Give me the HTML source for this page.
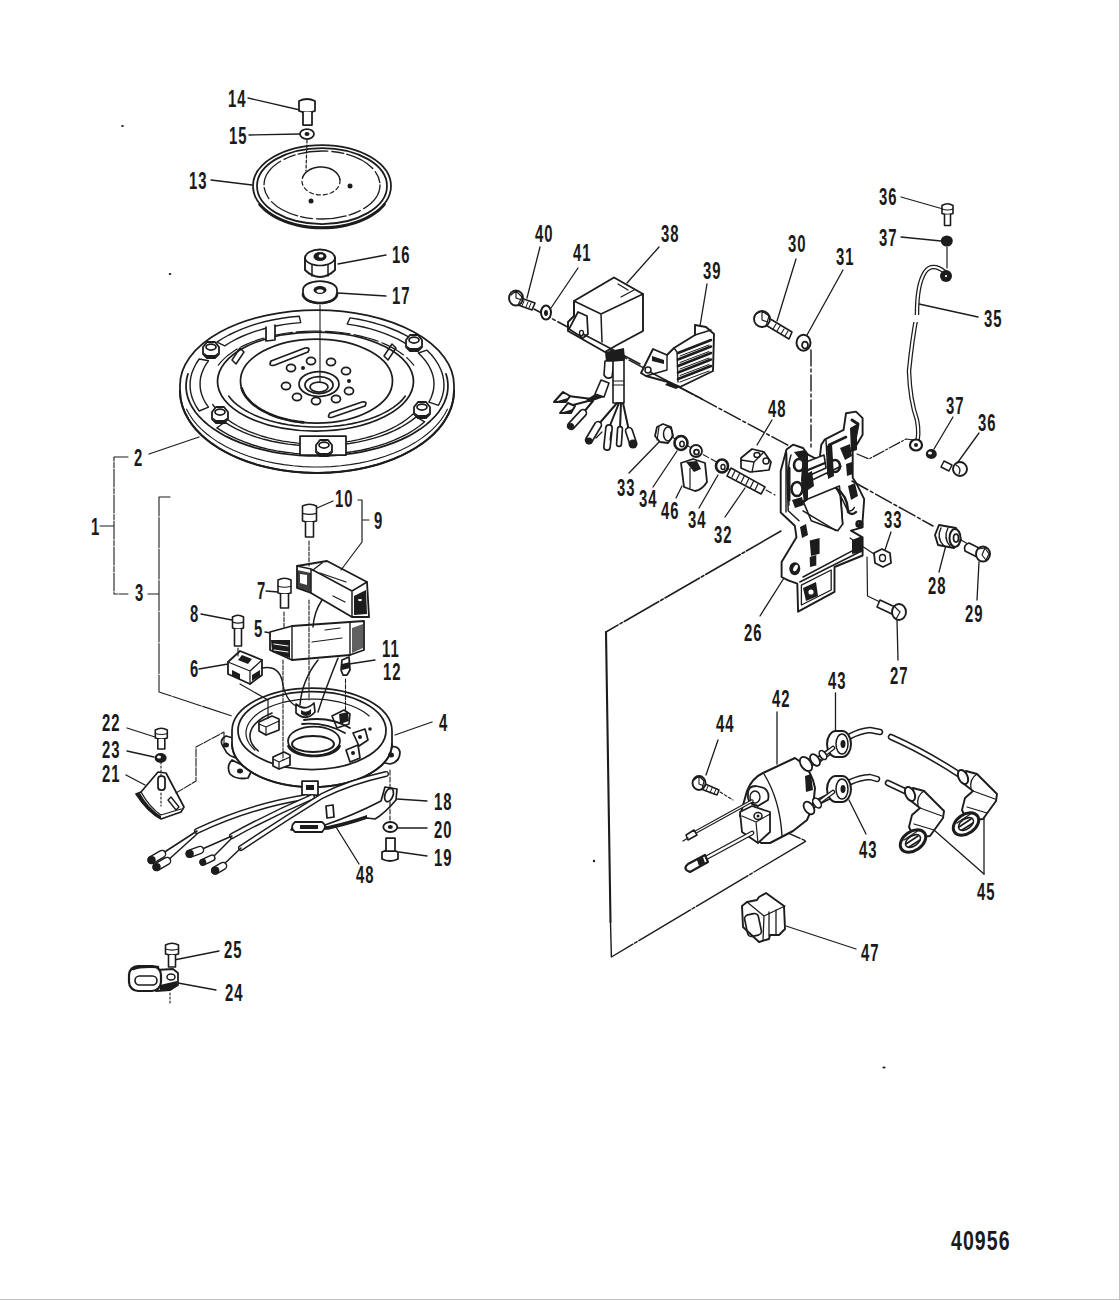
<!DOCTYPE html>
<html><head><meta charset="utf-8"><style>
html,body{margin:0;padding:0;background:#fff;width:1120px;height:1300px;overflow:hidden}
svg{display:block;position:absolute;left:0;top:0}
.t text{font-family:"Liberation Sans",sans-serif;font-weight:bold;fill:#1a1a1a;stroke:none;letter-spacing:1.5px}
.s{fill:none;stroke:#1c1c1c;stroke-width:1.75;stroke-linecap:round;stroke-linejoin:round}
.w{fill:#fff}
.k{fill:#1c1c1c;stroke:none}
</style></head><body>
<svg width="1120" height="1300" viewBox="0 0 1120 1300">
<rect x="1119" y="0" width="1" height="1300" fill="#c2c2c2"/>
<rect x="0" y="1299" width="1120" height="1" fill="#c2c2c2"/>
<g class="s">
<line x1="248" y1="98" x2="300" y2="110" stroke-width="1.3"/>
<line x1="249" y1="135" x2="300" y2="134" stroke-width="1.3"/>
<line x1="211" y1="180" x2="252" y2="185" stroke-width="1.3"/>
<line x1="338" y1="264" x2="386" y2="255" stroke-width="1.3"/>
<line x1="338" y1="293" x2="386" y2="296" stroke-width="1.3"/>
<line x1="149" y1="454" x2="199" y2="437" stroke-width="1.3"/>
<line x1="317" y1="508" x2="333" y2="501" stroke-width="1.3"/>
<line x1="266" y1="591" x2="278" y2="592" stroke-width="1.3"/>
<line x1="201" y1="614" x2="232" y2="620" stroke-width="1.3"/>
<line x1="265" y1="632" x2="282" y2="635" stroke-width="1.3"/>
<line x1="199" y1="669" x2="228" y2="664" stroke-width="1.3"/>
<line x1="349" y1="664" x2="375" y2="660" stroke-width="1.3"/>
<line x1="395" y1="735" x2="432" y2="722" stroke-width="1.3"/>
<line x1="127" y1="728" x2="155" y2="737" stroke-width="1.3"/>
<line x1="127" y1="751" x2="154" y2="757" stroke-width="1.3"/>
<line x1="126" y1="775" x2="145" y2="785" stroke-width="1.3"/>
<line x1="397" y1="799" x2="427" y2="801" stroke-width="1.3"/>
<line x1="397" y1="828" x2="427" y2="828" stroke-width="1.3"/>
<line x1="399" y1="852" x2="427" y2="856" stroke-width="1.3"/>
<line x1="336" y1="827" x2="359" y2="864" stroke-width="1.3"/>
<line x1="174" y1="960" x2="219" y2="951" stroke-width="1.3"/>
<line x1="178" y1="983" x2="216" y2="990" stroke-width="1.3"/>
<line x1="527" y1="298" x2="540" y2="247" stroke-width="1.3"/>
<line x1="551" y1="308" x2="578" y2="268" stroke-width="1.3"/>
<line x1="627" y1="283" x2="659" y2="247" stroke-width="1.3"/>
<line x1="700" y1="326" x2="707" y2="284" stroke-width="1.3"/>
<line x1="777" y1="321" x2="796" y2="259" stroke-width="1.3"/>
<line x1="807" y1="335" x2="843" y2="270" stroke-width="1.3"/>
<line x1="901" y1="197" x2="943" y2="209" stroke-width="1.3"/>
<line x1="901" y1="237" x2="941" y2="241" stroke-width="1.3"/>
<line x1="919" y1="304" x2="978" y2="317" stroke-width="1.3"/>
<line x1="660" y1="441" x2="629" y2="473" stroke-width="1.3"/>
<line x1="677" y1="451" x2="653" y2="487" stroke-width="1.3"/>
<line x1="682" y1="486" x2="676" y2="498" stroke-width="1.3"/>
<line x1="718" y1="475" x2="699" y2="508" stroke-width="1.3"/>
<line x1="745" y1="488" x2="725" y2="517" stroke-width="1.3"/>
<line x1="757" y1="445" x2="772" y2="420" stroke-width="1.3"/>
<line x1="934" y1="449" x2="953" y2="417" stroke-width="1.3"/>
<line x1="958" y1="462" x2="979" y2="433" stroke-width="1.3"/>
<line x1="946" y1="545" x2="939" y2="572" stroke-width="1.3"/>
<line x1="979" y1="562" x2="977" y2="600" stroke-width="1.3"/>
<line x1="885" y1="550" x2="891" y2="532" stroke-width="1.3"/>
<line x1="897" y1="620" x2="898" y2="660" stroke-width="1.3"/>
<line x1="760" y1="616" x2="784" y2="578" stroke-width="1.3"/>
<line x1="706" y1="775" x2="718" y2="740" stroke-width="1.3"/>
<line x1="777" y1="712" x2="777" y2="764" stroke-width="1.3"/>
<line x1="835.5" y1="693" x2="835.5" y2="731" stroke-width="1.3"/>
<line x1="849" y1="800" x2="866" y2="834" stroke-width="1.3"/>
<line x1="934" y1="830" x2="984" y2="874" stroke-width="1.3"/>
<line x1="984" y1="814" x2="984" y2="874" stroke-width="1.3"/>
<line x1="786" y1="926" x2="856" y2="949" stroke-width="1.3"/>
<ellipse cx="322" cy="186" rx="69" ry="41" class="w"/><ellipse cx="322" cy="186" rx="65" ry="38" /><ellipse cx="322" cy="185" rx="58" ry="34" stroke-width="1.3" stroke-dasharray="30,4,12,3"/><path d="M384.5,204.3 L382.3,206.9 L379.8,209.4 L377.0,211.8 L373.9,214.0 L370.5,216.1 L366.9,218.1 L363.1,219.9 L359.1,221.6 L354.9,223.1 L350.5,224.3 L346.0,225.5 L341.3,226.4 L336.6,227.1 L331.8,227.6 L326.9,227.9 L322.0,228.0 L317.1,227.9 L312.2,227.6 L307.4,227.1 L302.7,226.4 L298.0,225.5 L293.5,224.3 L289.1,223.1 L284.9,221.6 L280.9,219.9 L277.1,218.1 L273.5,216.1 L270.1,214.0 L267.0,211.8 L264.2,209.4 L261.7,206.9 L259.5,204.3" stroke-width="2.6"/><path d="M302.6,177.4 L303.0,176.4 L303.5,175.5 L304.1,174.6 L304.7,173.8 L305.4,173.0 L306.2,172.2 L307.1,171.5 L308.0,170.8 L309.0,170.1 L310.1,169.5 L311.2,169.0 L312.4,168.5 L313.6,168.1 L314.8,167.8 L316.1,167.5 L317.4,167.3 L318.7,167.1 L320.0,167.0 L321.3,167.0 L322.7,167.1 L324.0,167.2 L325.3,167.4 L326.6,167.6 L327.8,167.9 L329.0,168.3 L330.2,168.8 L331.3,169.3 L332.4,169.8 L333.5,170.4 L334.4,171.1 L335.3,171.8 L336.2,172.6 L336.9,173.4 L337.6,174.2 L338.2,175.1 L338.7,176.0 L339.2,176.9 L339.5,177.9 L339.8,178.8 L339.9,179.8" stroke-width="1.5"/><path d="M339.9,179.8 L340.0,180.8 L340.0,181.7 L339.9,182.7 L339.7,183.7 L339.4,184.6 L339.0,185.6 L338.5,186.5 L337.9,187.4 L337.3,188.2 L336.6,189.0 L335.8,189.8 L334.9,190.5 L334.0,191.2 L333.0,191.9 L331.9,192.5 L330.8,193.0 L329.6,193.5 L328.4,193.9 L327.2,194.2 L325.9,194.5 L324.6,194.7 L323.3,194.9 L322.0,195.0 L320.7,195.0 L319.3,194.9 L318.0,194.8 L316.7,194.6 L315.4,194.4 L314.2,194.1 L313.0,193.7 L311.8,193.2 L310.7,192.7 L309.6,192.2 L308.5,191.6 L307.6,190.9 L306.7,190.2 L305.8,189.4 L305.1,188.6 L304.4,187.8 L303.8,186.9 L303.3,186.0 L302.8,185.1 L302.5,184.1 L302.2,183.2 L302.1,182.2 L302.0,181.2 L302.0,180.3 L302.1,179.3 L302.3,178.3 L302.6,177.4" stroke-width="1.2" stroke-dasharray="4,3"/><circle cx="350" cy="186" r="2.5" class="k"/><circle cx="311" cy="201" r="2.5" class="k"/><line x1="307" y1="140" x2="306" y2="171" stroke-width="1.2" stroke-dasharray="3,2"/><path class="w" d="M299,101 Q307,97 315,101 L315,111 Q307,114 299,111 Z"/><path class="w" d="M303,112 L303,125 L312,125 L312,112"/><ellipse cx="307" cy="134" rx="7" ry="5" class="w"/><ellipse cx="307" cy="134" rx="2.5" ry="2" class="k"/><path class="w" d="M305,258 A15,8.5 0 0,1 335,258 L335,270 Q328,277 320,277 Q312,277 305,270 Z" stroke-width="1.9"/><path d="M335.0,257.5 L335.0,258.1 L334.9,258.6 L334.7,259.2 L334.4,259.7 L334.1,260.2 L333.7,260.8 L333.2,261.3 L332.7,261.7 L332.1,262.2 L331.5,262.6 L330.8,263.1 L330.0,263.4 L329.2,263.8 L328.4,264.1 L327.5,264.4 L326.6,264.7 L325.6,264.9 L324.6,265.1 L323.6,265.3 L322.6,265.4 L321.6,265.5 L320.5,265.5 L319.5,265.5 L318.4,265.5 L317.4,265.4 L316.4,265.3 L315.4,265.1 L314.4,264.9 L313.4,264.7 L312.5,264.4 L311.6,264.1 L310.8,263.8 L310.0,263.4 L309.2,263.1 L308.5,262.6 L307.9,262.2 L307.3,261.7 L306.8,261.3 L306.3,260.8 L305.9,260.2 L305.6,259.7 L305.3,259.2 L305.1,258.6 L305.0,258.1 L305.0,257.5" stroke-width="1.7"/><path d="M312,265 L312,276 M328,265 L328,276" stroke-width="1.5"/><ellipse cx="320" cy="256.5" rx="6.5" ry="4.5" class="k"/><ellipse cx="321" cy="256" rx="2.5" ry="1.8" fill="#fff" stroke="none"/><path class="w" d="M303,290 A17,9 0 0,1 337,290 L337,294 A17,9 0 0,1 303,294 Z"/><path d="M337.0,294.0 L337.0,294.6 L336.8,295.3 L336.6,295.9 L336.3,296.5 L336.0,297.1 L335.5,297.7 L335.0,298.2 L334.4,298.8 L333.8,299.3 L333.0,299.8 L332.2,300.3 L331.4,300.7 L330.5,301.1 L329.5,301.5 L328.5,301.8 L327.5,302.1 L326.4,302.3 L325.3,302.6 L324.1,302.7 L323.0,302.9 L321.8,303.0 L320.6,303.0 L319.4,303.0 L318.2,303.0 L317.0,302.9 L315.9,302.7 L314.7,302.6 L313.6,302.3 L312.5,302.1 L311.5,301.8 L310.5,301.5 L309.5,301.1 L308.6,300.7 L307.8,300.3 L307.0,299.8 L306.2,299.3 L305.6,298.8 L305.0,298.2 L304.5,297.7 L304.0,297.1 L303.7,296.5 L303.4,295.9 L303.2,295.3 L303.0,294.6 L303.0,294.0" stroke-width="2.6"/><ellipse cx="320" cy="290" rx="6.5" ry="4" class="k"/><ellipse cx="320" cy="291" rx="3.5" ry="1.8" fill="#fff" stroke="none"/><path class="w" d="M180,385 A137,75 0 0,1 454,385 L454,391 A137,82 0 0,1 180,391 Z"/><path d="M454.0,391.0 L453.7,396.7 L452.7,402.4 L451.0,408.0 L448.7,413.6 L445.7,419.0 L442.2,424.4 L438.0,429.5 L433.2,434.5 L427.8,439.2 L421.9,443.7 L415.5,448.0 L408.7,451.9 L401.3,455.6 L393.6,459.0 L385.5,462.0 L377.1,464.7 L368.3,467.0 L359.3,469.0 L350.1,470.6 L340.8,471.8 L331.3,472.6 L321.8,473.0 L312.2,473.0 L302.7,472.6 L293.2,471.8 L283.9,470.6 L274.7,469.0 L265.7,467.0 L256.9,464.7 L248.5,462.0 L240.4,459.0 L232.7,455.6 L225.3,451.9 L218.5,448.0 L212.1,443.7 L206.2,439.2 L200.8,434.5 L196.0,429.5 L191.8,424.4 L188.3,419.0 L185.3,413.6 L183.0,408.0 L181.3,402.4 L180.3,396.7 L180.0,391.0" stroke-width="2"/><path d="M446.0,373.8 L447.3,378.7 L447.9,383.6 L447.9,388.4 L447.3,393.3 L446.0,398.2 L444.1,402.9 L441.6,407.6 L438.5,412.2 L434.7,416.7 L430.4,421.0 L425.6,425.1 L420.2,429.1 L414.4,432.8 L408.0,436.4 L401.2,439.6 L394.0,442.6 L386.4,445.4 L378.5,447.8 L370.3,449.9 L361.8,451.8 L353.1,453.3 L344.2,454.5 L335.2,455.3 L326.1,455.8 L317.0,456.0 L307.9,455.8 L298.8,455.3 L289.8,454.5 L280.9,453.3 L272.2,451.8 L263.7,449.9 L255.5,447.8 L247.6,445.4 L240.0,442.6 L232.8,439.6 L226.0,436.4 L219.6,432.8 L213.8,429.1 L208.4,425.1 L203.6,421.0 L199.3,416.7 L195.5,412.2 L192.4,407.6 L189.9,402.9 L188.0,398.2 L186.7,393.3 L186.1,388.4 L186.1,383.6 L186.7,378.7 L188.0,373.8" /><path d="M447.4,409.2 L444.6,414.5 L441.2,419.6 L437.1,424.6 L432.5,429.4 L427.2,434.0 L421.4,438.4 L415.1,442.6 L408.3,446.4 L401.1,450.0 L393.4,453.3 L385.3,456.3 L376.9,458.9 L368.2,461.2 L359.3,463.1 L350.1,464.6 L340.8,465.8 L331.3,466.6 L321.8,467.0 L312.2,467.0 L302.7,466.6 L293.2,465.8 L283.9,464.6 L274.7,463.1 L265.8,461.2 L257.1,458.9 L248.7,456.3 L240.6,453.3 L232.9,450.0 L225.7,446.4 L218.9,442.6 L212.6,438.4 L206.8,434.0 L201.5,429.4 L196.9,424.6 L192.8,419.6 L189.4,414.5 L186.6,409.2" stroke-width="1.1"/><path d="M421.3,404.5 L418.4,408.4 L415.0,412.2 L411.1,415.8 L406.8,419.3 L402.0,422.6 L396.8,425.7 L391.3,428.6 L385.3,431.3 L379.1,433.7 L372.5,436.0 L365.7,437.9 L358.6,439.6 L351.3,441.1 L343.9,442.2 L336.3,443.1 L328.6,443.7 L320.9,444.0 L313.1,444.0 L305.4,443.7 L297.7,443.1 L290.1,442.2 L282.7,441.1 L275.4,439.6 L268.3,437.9 L261.5,436.0 L254.9,433.7 L248.7,431.3 L242.7,428.6 L237.2,425.7 L232.0,422.6 L227.2,419.3 L222.9,415.8 L219.0,412.2 L215.6,408.4 L212.7,404.5" stroke-width="1.3"/><ellipse cx="315.5" cy="381.5" rx="98" ry="49.5" /><path d="M218.3,365.2 L221.0,361.8 L224.2,358.6 L227.8,355.4 L231.9,352.4 L236.3,349.6 L241.2,346.9 L246.4,344.4 L252.0,342.0 L257.8,339.9 L264.0,338.0 L270.4,336.3 L277.0,334.8 L283.9,333.5 L290.8,332.5 L297.9,331.8 L305.1,331.3 L312.4,331.0 L319.6,331.0 L326.9,331.3 L334.1,331.8 L341.2,332.5 L348.1,333.5 L355.0,334.8 L361.6,336.3 L368.0,338.0 L374.2,339.9 L380.0,342.0 L385.6,344.4 L390.8,346.9 L395.7,349.6 L400.1,352.4 L404.2,355.4 L407.8,358.6 L411.0,361.8 L413.7,365.2" stroke-width="1.2" stroke-dasharray="25,4"/><path d="M405.3,396.1 L402.9,399.1 L400.0,402.1 L396.7,404.9 L393.0,407.6 L389.0,410.2 L384.6,412.6 L379.9,414.9 L374.9,417.0 L369.6,419.0 L364.0,420.7 L358.2,422.2 L352.2,423.6 L346.0,424.7 L339.7,425.6 L333.3,426.3 L326.8,426.7 L320.3,427.0 L313.7,427.0 L307.2,426.7 L300.7,426.3 L294.3,425.6 L288.0,424.7 L281.8,423.6 L275.8,422.2 L270.0,420.7 L264.4,419.0 L259.1,417.0 L254.1,414.9 L249.4,412.6 L245.0,410.2 L241.0,407.6 L237.3,404.9 L234.0,402.1 L231.1,399.1 L228.7,396.1" stroke-width="1.6"/><ellipse cx="316.5" cy="381" rx="76" ry="42" /><ellipse cx="319" cy="384" rx="20" ry="12.5" /><ellipse cx="319" cy="385" rx="14" ry="8.5" /><ellipse cx="319" cy="387" rx="9" ry="5" /><ellipse cx="291" cy="368" rx="4.5" ry="3.6" /><ellipse cx="286" cy="386" rx="4.5" ry="3.6" /><ellipse cx="297" cy="397" rx="4.5" ry="3.6" /><ellipse cx="316" cy="401" rx="4.5" ry="3.6" /><ellipse cx="336" cy="399" rx="4.5" ry="3.6" /><ellipse cx="349" cy="391" rx="4.5" ry="3.6" /><ellipse cx="346" cy="371" rx="4.5" ry="3.6" /><ellipse cx="331" cy="362" rx="4.5" ry="3.6" /><ellipse cx="311" cy="361" rx="4.5" ry="3.6" /><circle cx="303" cy="368" r="2" class="k"/><circle cx="349" cy="381" r="2" class="k"/><path d="M271,361 L305,348 Q311,347 308,352 L275,365 Q268,367 271,361 Z"/><path d="M330,413 L362,402 Q368,401 365,406 L333,417 Q326,419 330,413 Z"/><path d="M199.2,411.0 L196.2,406.5 L193.8,401.8 L191.9,397.1 L190.7,392.3 L190.1,387.4 L190.1,382.6 L190.7,377.7 L191.9,372.9 L193.8,368.2 L196.2,363.5 L199.2,359.0 L208.5,360.8 L205.7,364.8 L203.5,369.0 L201.8,373.2 L200.6,377.5 L200.1,381.8 L200.1,386.2 L200.6,390.5 L201.8,394.8 L203.5,399.0 L205.7,403.2 L208.5,407.2 Z" stroke-width="1.4"/><path d="M303.7,454.1 L294.5,453.4 L285.5,452.3 L276.6,450.9 L267.9,449.1 L259.5,447.0 L251.4,444.5 L243.7,441.7 L236.3,438.7 L229.4,435.3 L222.9,431.7 L216.9,427.8 L224.8,422.2 L230.3,425.6 L236.3,428.9 L242.7,431.9 L249.4,434.6 L256.6,437.1 L264.0,439.3 L271.8,441.2 L279.8,442.8 L288.0,444.1 L296.3,445.0 L304.8,445.7 Z" stroke-width="1.4"/><path d="M424.7,421.8 L419.5,426.0 L413.8,430.0 L407.5,433.8 L400.8,437.2 L393.6,440.4 L386.0,443.3 L378.0,445.9 L369.8,448.2 L361.2,450.2 L352.4,451.7 L343.4,453.0 L341.3,444.6 L349.6,443.5 L357.7,442.1 L365.6,440.4 L373.2,438.4 L380.6,436.1 L387.6,433.5 L394.2,430.6 L400.4,427.5 L406.1,424.2 L411.4,420.6 L416.2,416.9 Z" stroke-width="1.4"/><path d="M427.0,350.2 L431.4,354.8 L435.2,359.6 L438.3,364.5 L440.8,369.5 L442.6,374.6 L443.6,379.7 L444.0,384.9 L443.7,390.1 L442.6,395.2 L440.9,400.3 L438.5,405.3 L428.9,402.1 L431.1,397.7 L432.7,393.1 L433.7,388.5 L434.0,383.9 L433.7,379.3 L432.7,374.7 L431.0,370.1 L428.8,365.7 L425.9,361.3 L422.4,357.1 L418.3,353.0 Z" stroke-width="1.4"/><path d="M216.9,342.2 L222.6,338.5 L228.8,335.0 L235.4,331.8 L242.4,328.8 L249.7,326.1 L257.4,323.6 L265.3,321.5 L273.6,319.7 L282.0,318.2 L290.6,317.0 L299.3,316.2 L300.7,322.6 L292.7,323.4 L284.8,324.4 L277.0,325.7 L269.4,327.4 L262.1,329.3 L255.0,331.4 L248.2,333.8 L241.8,336.5 L235.7,339.4 L230.1,342.5 L224.8,345.8 Z" stroke-width="1.4"/><path d="M349.9,317.9 L358.6,319.3 L367.1,321.1 L375.3,323.3 L383.3,325.7 L390.8,328.5 L398.1,331.5 L404.9,334.8 L411.2,338.4 L417.1,342.2 L409.2,345.8 L403.8,342.4 L397.9,339.2 L391.7,336.3 L385.0,333.6 L378.0,331.1 L370.7,328.9 L363.1,327.0 L355.3,325.4 L347.3,324.1 Z" stroke-width="1.4"/><rect x="300" y="436" width="46" height="19" class="w"/><path class="w" d="M203,347 L207,342 L215,342 L219,347 L219,354 L215,358 L207,358 L203,354 Z" stroke-width="1.8"/><ellipse cx="211" cy="347" rx="5" ry="3" /><path class="k" d="M203,352 L207,358 L215,358 L219,352 L215,355 L207,355 Z"/><path class="w" d="M406,340 L410,335 L418,335 L422,340 L422,347 L418,351 L410,351 L406,347 Z" stroke-width="1.8"/><ellipse cx="414" cy="340" rx="5" ry="3" /><path class="k" d="M406,345 L410,351 L418,351 L422,345 L418,348 L410,348 Z"/><path class="w" d="M212,412 L216,407 L224,407 L228,412 L228,419 L224,423 L216,423 L212,419 Z" stroke-width="1.8"/><ellipse cx="220" cy="412" rx="5" ry="3" /><path class="k" d="M212,417 L216,423 L224,423 L228,417 L224,420 L216,420 Z"/><path class="w" d="M414,407 L418,402 L426,402 L430,407 L430,414 L426,418 L418,418 L414,414 Z" stroke-width="1.8"/><ellipse cx="422" cy="407" rx="5" ry="3" /><path class="k" d="M414,412 L418,418 L426,418 L430,412 L426,415 L418,415 Z"/><path class="w" d="M316,445 L320,440 L328,440 L332,445 L332,452 L328,456 L320,456 L316,452 Z" stroke-width="1.8"/><ellipse cx="324" cy="445" rx="5" ry="3" /><path class="k" d="M316,450 L320,456 L328,456 L332,450 L328,453 L320,453 Z"/><path d="M266,327 L266,341 L275,340 L275,325" class="w"/><path d="M232,360 L240,348 L244,352 L236,364 Z" stroke-width="1.5"/><path d="M384,356 L392,344 L396,348 L388,360 Z" stroke-width="1.5"/><path d="M303.3,422.4 L298.0,421.7 L292.7,420.9 L287.6,419.8 L282.6,418.6 L277.8,417.2 L273.2,415.5 L268.9,413.7 L264.7,411.7 L260.9,409.6 L257.3,407.3 L254.0,404.9 L251.1,402.4 L248.5,399.7 L246.2,397.0 L244.3,394.1 L242.8,391.2 L241.7,388.3" stroke-width="2.6"/><line x1="320" y1="305" x2="320" y2="382" stroke-width="1.1"/><path d="M128,457 L114,457 L114,594 L128,594 M100,526 L114,526" stroke-width="1.1" stroke-dasharray="18,1.5,5,1.5"/><path d="M170,497 L159,497 L159,692 L232,716 M148,594 L159,594" stroke-width="1.1" stroke-dasharray="30,1.5"/><path class="w" d="M224,748 Q218,740 226,736 L240,740 L240,758 Q228,758 224,748 Z"/><path class="w" d="M388,748 Q398,744 400,752 Q400,762 390,764 L380,762 Z"/><path class="w" d="M232,760 Q226,766 230,774 Q236,780 248,778 L252,770 Z"/><path class="w" d="M232,731 A80,43 0 0,1 392,731 L392,744 A80,43 0 0,1 232,744 Z"/><path d="M392.0,744.0 L391.8,747.0 L391.2,750.0 L390.3,752.9 L388.9,755.9 L387.2,758.7 L385.1,761.5 L382.6,764.2 L379.8,766.8 L376.7,769.3 L373.3,771.6 L369.5,773.9 L365.5,776.0 L361.3,777.9 L356.7,779.6 L352.0,781.2 L347.1,782.6 L342.0,783.9 L336.7,784.9 L331.4,785.7 L325.9,786.3 L320.4,786.8 L314.8,787.0 L309.2,787.0 L303.6,786.8 L298.1,786.3 L292.6,785.7 L287.3,784.9 L282.0,783.9 L276.9,782.6 L272.0,781.2 L267.3,779.6 L262.7,777.9 L258.5,776.0 L254.5,773.9 L250.7,771.6 L247.3,769.3 L244.2,766.8 L241.4,764.2 L238.9,761.5 L236.8,758.7 L235.1,755.9 L233.7,752.9 L232.8,750.0 L232.2,747.0 L232.0,744.0" stroke-width="1.8"/><ellipse cx="312" cy="730.5" rx="74" ry="39" /><path d="M254.8,750.0 L252.7,747.9 L250.8,745.7 L249.2,743.5 L248.0,741.2 L247.0,738.9 L246.4,736.6 L246.0,734.2 L246.0,731.8 L246.4,729.4 L247.0,727.1 L248.0,724.8 L249.2,722.5 L250.8,720.3 L252.7,718.1 L254.8,716.0 L257.3,714.0 L260.0,712.1 L263.0,710.2 L266.2,708.5 L269.6,707.0 L273.2,705.5 L277.0,704.2 L281.0,703.0 L285.2,701.9 L289.4,701.1 L293.8,700.3 L298.3,699.7 L302.8,699.3 L307.4,699.1 L312.0,699.0 L316.6,699.1 L321.2,699.3 L325.7,699.7 L330.2,700.3 L334.6,701.1 L338.8,701.9 L343.0,703.0 L347.0,704.2 L350.8,705.5 L354.4,707.0 L357.8,708.5 L361.0,710.2 L364.0,712.1 L366.7,714.0 L369.2,716.0" stroke-width="1.2"/><ellipse cx="314" cy="741" rx="26" ry="14.5" /><ellipse cx="313" cy="744" rx="21" ry="8" stroke-width="2"/><ellipse cx="226" cy="745" rx="3" ry="2.5" class="k"/><ellipse cx="391" cy="755" rx="3" ry="2.5" class="k"/><ellipse cx="240" cy="771" rx="3" ry="2.5" class="k"/><path class="w" d="M259,722 L272,716 L279,719 L279,730 L266,735 L259,731 Z" stroke-width="1.7"/><path d="M259,724 L266,727 L279,721 M266,727 L266,735" stroke-width="1.2"/><path class="w" d="M273,757 L284,752 L290,755 L290,765 L279,769 L273,766 Z" stroke-width="1.7"/><path d="M273,759 L279,762 L290,757 M279,762 L279,769" stroke-width="1.2"/><path class="w" d="M296,704 Q305,712 314,703 L315,712 Q306,722 296,713 Z" stroke-width="1.7"/><path class="k" d="M301,710 Q306,714 311,709 L311,714 Q306,718 301,714 Z"/><path class="w" d="M332,716 L344,710 L350,714 L349,724 L337,728 Z" stroke-width="1.6"/><path class="k" d="M339,714 L348,712 L349,721 L340,724 Z"/><path class="w" d="M353,733 L365,729 L368,740 L359,746 Z" stroke-width="1.7"/><circle cx="360" cy="737" r="2" class="k"/><path class="w" d="M346,750 L358,745 L360,758 L350,762 Z" stroke-width="1.7"/><circle cx="353" cy="753" r="2" class="k"/><circle cx="370" cy="729" r="1.8" class="k"/><path d="M302,724 Q325,722 345,733 M304,720 Q330,716 350,728" stroke-width="1.8"/><path d="M258.3,751.0 L256.3,749.2 L254.5,747.2 L253.0,745.3 L251.8,743.3 L250.9,741.2 L250.3,739.1 L250.0,737.0 L250.0,735.0 L250.3,732.9 L250.9,730.8 L251.8,728.7 L253.0,726.7 L254.5,724.8 L256.3,722.8 L258.3,721.0 L260.6,719.2 L263.1,717.5 L265.9,715.9 L268.9,714.4 L272.1,713.0" stroke-width="1.6"/><path d="M339.6,746.1 L339.2,746.9 L338.7,747.7 L338.1,748.5 L337.4,749.3 L336.5,750.0 L335.6,750.7 L334.5,751.4 L333.3,752.0 L332.1,752.6 L330.7,753.2 L329.3,753.7 L327.8,754.2 L326.2,754.6 L324.6,755.0 L322.9,755.3 L321.2,755.5 L319.4,755.7 L317.6,755.9 L315.8,756.0 L314.0,756.0 L312.2,756.0 L310.4,755.9 L308.6,755.7 L306.8,755.5 L305.1,755.3 L303.4,755.0 L301.8,754.6 L300.2,754.2 L298.7,753.7 L297.3,753.2 L295.9,752.6 L294.7,752.0 L293.5,751.4 L292.4,750.7 L291.5,750.0 L290.6,749.3 L289.9,748.5 L289.3,747.7 L288.8,746.9 L288.4,746.1" stroke-width="2.6"/><path class="w" d="M302,781 L318,781 L318,795 L302,795 Z"/><rect x="306" y="785" width="8" height="5" class="k"/><path d="M306,797 Q250,806 197,831" stroke-width="6.0" stroke-linecap="round" /><path d="M306,797 Q250,806 197,831" stroke="#fff" stroke-width="3.2" stroke-linecap="round" /><path d="M312,797 Q270,815 232,836" stroke-width="6.0" stroke-linecap="round" /><path d="M312,797 Q270,815 232,836" stroke="#fff" stroke-width="3.2" stroke-linecap="round" /><path d="M386,774 Q350,782 322,796 Q280,822 241,848" stroke-width="6.0" stroke-linecap="round" /><path d="M386,774 Q350,782 322,796 Q280,822 241,848" stroke="#fff" stroke-width="3.2" stroke-linecap="round" /><path d="M197,831 L160,855 M197,834 L166,862 M232,836 L200,850 M232,838 L212,858 M241,848 L222,866" stroke-width="1.5"/><path d="M162,854 L151.6,860.0" stroke-width="8.6" stroke-linecap="round"/><path d="M162,854 L151.6,860.0" stroke="#fff" stroke-width="5.8" stroke-linecap="round"/><circle cx="151.6" cy="860.0" r="4.1" class="k"/><path d="M167,861 L156.6,867.0" stroke-width="8.6" stroke-linecap="round"/><path d="M167,861 L156.6,867.0" stroke="#fff" stroke-width="5.8" stroke-linecap="round"/><circle cx="156.6" cy="867.0" r="4.1" class="k"/><path d="M200,850 L189.7,853.8" stroke-width="8.6" stroke-linecap="round"/><path d="M200,850 L189.7,853.8" stroke="#fff" stroke-width="5.8" stroke-linecap="round"/><circle cx="189.7" cy="853.8" r="4.1" class="k"/><path d="M212,858 L202.9,862.2" stroke-width="7.199999999999999" stroke-linecap="round"/><path d="M212,858 L202.9,862.2" stroke="#fff" stroke-width="4.3999999999999995" stroke-linecap="round"/><circle cx="202.9" cy="862.2" r="3.4" class="k"/><path d="M223,866 L215.2,870.5" stroke-width="8.6" stroke-linecap="round"/><path d="M223,866 L215.2,870.5" stroke="#fff" stroke-width="5.8" stroke-linecap="round"/><circle cx="215.2" cy="870.5" r="4.1" class="k"/><path class="w" d="M297,566 L327,561 L367,582 L369,617 L352,617 L311,593 L297,588 Z" stroke-width="1.8"/><path d="M311,569 L311,593 M311,569 L352,591 L352,617 M352,591 L367,582 M297,566 L311,569" stroke-width="1.5"/><path class="k" d="M297,570 L311,573 L311,593 L297,588 Z" opacity="0.85"/><path class="w" d="M300,574 L307,575 L307,585 L300,583 Z" stroke="none"/><path class="k" d="M354,596 L366,590 L367,614 L354,615 Z"/><ellipse cx="360" cy="600" rx="3" ry="2" fill="#fff"/><path d="M320,573 L346,582 M333,596 L345,602 M313,570 L322,563" stroke-width="1.3"/><path class="w" d="M270,632 L292,626 L364,621 L364,650 L350,655 L292,660 L270,650 Z" stroke-width="1.8"/><path d="M292,626 L292,660 M350,623 L350,655" stroke-width="1.4"/><path class="k" d="M271,640 L290,640 L290,658 L272,652 Z"/><path d="M274,644 L288,646 M274,650 L288,652" stroke="#fff" stroke-width="1"/><path class="k" d="M352,628 L363,624 L363,648 L352,653 Z" opacity="0.7"/><path d="M312,642 L342,638 M325,630 L340,628" stroke-width="1.2"/><path d="M322,600 Q314,612 313,627 M318,660 Q302,680 300,705 M338,658 Q325,690 318,712" stroke-width="1.5"/><path class="w" d="M228,662 L240,651 L262,660 L262,675 L250,684 L228,674 Z" stroke-width="1.8"/><path d="M228,662 L250,671 L262,660 M250,671 L250,684" stroke-width="1.3"/><path class="k" d="M242,655 L252,659 L248,664 L238,660 Z M232,670 L240,674 L240,680 L232,676 Z M252,675 L260,670 L260,676 L252,681 Z"/><path d="M262,668 Q278,665 282,680 Q285,700 296,706" stroke-width="1.4"/><path d="M240,684 L268,700 L268,718" stroke-width="1.2"/><path class="w" d="M302.5,506 Q309.5,502.5 316.5,506 L316.5,521 Q309.5,523 302.5,521 Z" stroke-width="1.6"/><path d="M302.5,513.35 Q309.5,515.35 316.5,513.35" stroke-width="1.2"/><path class="w" d="M305.5,522 L305.5,537 L313.5,537 L313.5,522" stroke-width="1.6"/><path class="w" d="M278.0,580 Q284.5,576.5 291.0,580 L291.0,593 Q284.5,595 278.0,593 Z" stroke-width="1.6"/><path d="M278.0,586.25 Q284.5,588.25 291.0,586.25" stroke-width="1.2"/><path class="w" d="M280.5,594 L280.5,608 L288.5,608 L288.5,594" stroke-width="1.6"/><path class="w" d="M232.5,617 Q238,613.5 243.5,617 L243.5,628 Q238,630 232.5,628 Z" stroke-width="1.6"/><path d="M232.5,622.15 Q238,624.15 243.5,622.15" stroke-width="1.2"/><path class="w" d="M234.5,629 L234.5,646 L241.5,646 L241.5,629" stroke-width="1.6"/><path d="M309,541 L309,566 M284,612 L284,628 M238,648 L238,656 M309,600 L309,700 M283,660 L283,760" stroke-width="1.1" stroke-dasharray="4,1.5"/><path class="w" d="M342,660 L349,657 L350,670 L347,675 L343,675 L341,670 Z"/><path class="k" d="M342,664 L350,662 L350,668 L342,670 Z"/><path d="M345.5,679 L345.5,712" stroke-width="1.1" stroke-dasharray="4,1.5"/><path d="M358,500 L362,500 L362,542 L341,570 M362,520 L369,520" stroke-width="1.2"/><path class="w" d="M155.3,730 Q161.3,726.5 167.3,730 L167.3,738 Q161.3,740 155.3,738 Z" stroke-width="1.6"/><path d="M155.3,733.5 Q161.3,735.5 167.3,733.5" stroke-width="1.2"/><path class="w" d="M157.8,739 L157.8,749 L164.8,749 L164.8,739" stroke-width="1.6"/><ellipse cx="160.6" cy="758" rx="6" ry="5" class="k"/><ellipse cx="159" cy="757" rx="2" ry="1.5" fill="#fff" stroke="none"/><path class="w" d="M158,772 L166,773 L184,807 L181,812 L161,819 Q148,812 136,794 L141,792 Z" stroke-width="1.7"/><path d="M141,792 Q150,808 161,815 L181,809" stroke-width="1.3"/><path class="k" d="M136,794 Q146,812 161,819 L161,816 Q148,808 140,793 Z"/><rect x="158" y="776" width="7" height="14" rx="3" class="w"/><path d="M168,800 L176,810 L179,807 L171,797 Z" stroke-width="1.4"/><path d="M161,762 L161,776 M161,793 L161,806" stroke-width="1.1" stroke-dasharray="2,2"/><path d="M176,793 L196,781 L196,747 L224,732 L224,745" stroke-width="1.1" stroke-dasharray="8,1.5"/><path class="w" d="M385,787 L397,789 L396,800 Q384,814 375,819 L367,818 Q350,824 328,829 L291,830 L295,824 L325,825 Q354,815 381,801 Z" stroke-width="1.7"/><path class="k" d="M367,818 Q350,824 328,829 L291,830 L292,828 L328,826 Q350,821 367,815 Z"/><ellipse cx="389" cy="795" rx="4" ry="7" transform="rotate(20 389 795)"/><path class="w" d="M295,822 L322,822 Q328,826 322,832 L295,832 Q289,827 295,822 Z" stroke-width="1.8"/><path class="k" d="M300,825 L318,825 L318,829 L300,829 Z"/><path class="w" d="M326,806 L333,805 L334,817 L327,818 Z"/><path d="M390,770 L390,790 M390,802 L390,820" stroke-width="1.1" stroke-dasharray="5,2"/><ellipse cx="390.3" cy="827" rx="7" ry="5" class="w" stroke-width="1.8"/><ellipse cx="390.3" cy="827" rx="2.5" ry="2" class="k"/><path class="w" d="M382,852 Q390,848 398,852 L398,859 Q390,863 382,859 Z"/><path class="w" d="M386,838 L386,851 L395,851 L395,838 Z"/><path class="w" d="M165.5,945 Q172,941.5 178.5,945 L178.5,954 Q172,956 165.5,954 Z" stroke-width="1.6"/><path d="M165.5,949.05 Q172,951.05 178.5,949.05" stroke-width="1.2"/><path class="w" d="M168.5,955 L168.5,967 L175.5,967 L175.5,955" stroke-width="1.6"/><path class="w" d="M156,970 L173,969 L178,973 L178,985 L170,990 L156,991 Z" stroke-width="1.8"/><path class="k" d="M160,985 L177,981 L177,986 L170,991 L160,991 Z"/><ellipse cx="171" cy="977" rx="4" ry="3" stroke-width="1.5"/><rect x="129" y="966" width="32" height="25" rx="9" class="w" stroke-width="2.2"/><path d="M133,969 Q140,966 158,967" stroke-width="2.6"/><rect x="135" y="976" width="22" height="9" rx="4.5" stroke-width="1.6"/><path d="M170,993 L170,1004" stroke-width="1.1" stroke-dasharray="2,2"/><ellipse cx="122.5" cy="126" rx="1.3" ry="1" class="k"/><ellipse cx="170" cy="274" rx="1.3" ry="1.1" class="k"/><ellipse cx="594" cy="861" rx="1.2" ry="1.2" class="k"/><ellipse cx="884" cy="1067.5" rx="1.6" ry="0.9" class="k"/><path d="M534,309 L793,448" stroke-width="1.5" stroke-dasharray="18,3,3,3"/><path class="w" d="M521,298 L535,303 L532,310 L518,305 Z" stroke-width="1.6"/><path d="M524,301 L522,306 M528,302 L526,307 M531,303 L529,308" stroke-width="1"/><ellipse cx="516" cy="298" rx="7" ry="7.5" class="w" stroke-width="1.9"/><path d="M511,295 L516,291 L522,297 L518,305 M516,291 L516,298 L522,300" stroke-width="1.2"/><ellipse cx="546" cy="312.6" rx="5" ry="7" class="w" stroke-width="2"/><ellipse cx="546" cy="313" rx="2" ry="3" class="k"/><path class="w" d="M574,301 L614,277.5 L643,294 L643,331 L617,345 L605,352 L568,331 L568,322 L574,316 Z" stroke-width="1.9"/><path d="M574,301 L601,314 L643,294 M601,314 L602,342 M574,301 L574,316" stroke-width="1.5"/><path class="w" d="M569,329 L578,312 L587,316 L588,334 L583,338 Z" stroke-width="1.7"/><ellipse cx="581.5" cy="333" rx="2" ry="2.6" stroke-width="1.3"/><path d="M583,334 L640,364" stroke-width="1.5"/><path d="M618,284 L628,290 M621,297 L634,290" stroke-width="1.3"/><path class="k" d="M605,352 L624,348 L625,360 L606,362 Z"/><path class="w" d="M605,361 L604,375 Q607,380 612,377 L614,361 Z" stroke-width="1.6"/><path class="w" d="M613,361 L613,403 L624,403 L624,360 Z" stroke-width="1.6"/><path d="M613,381 L624,381 M613,385 L624,385" stroke-width="1.2"/><path class="w" d="M601,380 L609,383 L604,397 L595,394 Z" stroke-width="1.6"/><path class="k" d="M595,394 L604,397 L590,402 L586,400 Z"/><path d="M592,399 L568,396 M592,400 L573,405 M593,401 L583,413" stroke-width="2"/><path class="w" d="M554,402 L563,392 L570,396 L566,402 Z" stroke-width="2"/><path class="k" d="M554,402 L566,402 L568,398 Z"/><path class="w" d="M560,413 L568,403 L575,406 L571,413 Z" stroke-width="2"/><path class="k" d="M560,413 L571,413 L573,409 Z"/><path d="M617,403 L598,425 M619,403 L609,428 M621,403 L620,429 M623,403 L629,431" stroke-width="2"/><path d="M583,413 L571,426" stroke-width="8.5" stroke-linecap="round"/><path d="M583,413 L571,426" stroke="#fff" stroke-width="5.2" stroke-linecap="round"/><path d="M598,425 L589,440" stroke-width="8.5" stroke-linecap="round"/><path d="M598,425 L589,440" stroke="#fff" stroke-width="5.2" stroke-linecap="round"/><path d="M609,428 L607,447" stroke-width="8.0" stroke-linecap="round"/><path d="M609,428 L607,447" stroke="#fff" stroke-width="4.7" stroke-linecap="round"/><path d="M620,429 L619,444" stroke-width="6.5" stroke-linecap="round"/><path d="M620,429 L619,444" stroke="#fff" stroke-width="3.2" stroke-linecap="round"/><path d="M629,431 L633,443" stroke-width="8.5" stroke-linecap="round"/><path d="M629,431 L633,443" stroke="#fff" stroke-width="5.2" stroke-linecap="round"/><circle cx="633" cy="444" r="4.5" class="k"/><circle cx="589" cy="441" r="3.5" class="k"/><circle cx="571" cy="426" r="3" class="k"/><path d="M611,432 L610,440 M602,432 L596,438" stroke-width="1.2"/><path class="w" d="M653,349 L667,355 L674,348 L695,335 L695,325 L706,327 L714,334 L713,371 L680,387 L668,382 L646,376 L641,373 Z" stroke-width="1.9"/><path d="M667,355 L667,370 L646,376 M674,348 L677,352 L678,382 M695,335 L711,330" stroke-width="1.4"/><path d="M678,353.0 L711,340.0" stroke-width="2.6"/><path d="M680,356.0 L709,345.0" stroke-width="1" /><path d="M678,359.5 L711,346.5" stroke-width="2.6"/><path d="M680,362.5 L709,351.5" stroke-width="1" /><path d="M678,366.0 L711,353.0" stroke-width="2.6"/><path d="M680,369.0 L709,358.0" stroke-width="1" /><path d="M678,372.5 L711,359.5" stroke-width="2.6"/><path d="M680,375.5 L709,364.5" stroke-width="1" /><path d="M678,379.0 L711,366.0" stroke-width="2.6"/><path d="M680,382.0 L709,371.0" stroke-width="1" /><path class="k" d="M652,356 L664,360 L664,364 L652,361 Z"/><circle cx="648" cy="370" r="3" stroke-width="1.5"/><path d="M650,372 L702,399" stroke-width="1.5"/><path class="k" d="M668,382 L680,387 L676,389 L665,385 Z"/><path class="w" d="M767,317 L792,332 L789,339 L764,324 Z" stroke-width="1.6"/><path d="M776,324 L773,329 M780,326 L777,331 M784,329 L781,334 M788,331 L785,336" stroke-width="1.1"/><ellipse cx="762" cy="319" rx="8" ry="8" class="w" stroke-width="1.9"/><path d="M756,314 L762,311 L769,316 L766,326 M762,311 L762,320 L768,322" stroke-width="1.2"/><ellipse cx="803.5" cy="342.8" rx="7" ry="8" class="w" stroke-width="2"/><ellipse cx="805" cy="345" rx="3" ry="3.5" /><path d="M811,350 L811,450" stroke-width="1.4" stroke-dasharray="16,3,3,3"/><path class="w" d="M942.0,205.5 Q947.5,202.0 953.0,205.5 L953.0,213.5 Q947.5,215.5 942.0,213.5 Z" stroke-width="1.6"/><path d="M942.0,209.0 Q947.5,211.0 953.0,209.0" stroke-width="1.2"/><path class="w" d="M944.5,214.5 L944.5,225.5 L950.5,225.5 L950.5,214.5" stroke-width="1.6"/><ellipse cx="946.8" cy="241" rx="6" ry="5.5" class="k"/><path d="M947,247 L947,268" stroke-width="1.2"/><path d="M945,272 Q932,262 925,272 Q917,284 917,314 Q912,340 909,371 Q910,400 917,420 Q920,435 916,447" stroke-width="4.5"/><path d="M945,272 Q932,262 925,272 Q917,284 917,314 Q912,340 909,371 Q910,400 917,420 Q920,435 916,447" stroke="#fff" stroke-width="2"/><circle cx="946" cy="276" r="6" class="k"/><circle cx="946" cy="276" r="2" fill="#fff"/><rect x="910" y="315" width="14" height="7" fill="#fff" stroke="none"/><path d="M781,531 L606,632" stroke-width="1.5" stroke-dasharray="40,2,3,2"/><path d="M606,632 L610.5,922" stroke-width="2.1"/><path d="M610.5,922 L611.4,957 L806,841 L770,825" stroke-width="1.4" stroke-dasharray="60,2,3,2"/><path d="M672,437 L775,495" stroke-width="1.1" stroke-dasharray="6,3"/><path class="w" d="M657,427 L663,424 L671,427 L673,436 L668,443 L660,442 L655,436 Z" stroke-width="1.8"/><ellipse cx="668" cy="434" rx="4.5" ry="7" stroke-width="1.5"/><path d="M659,427 L657,440" stroke-width="1.2"/><ellipse cx="681" cy="443" rx="6.5" ry="7" class="w" stroke-width="2.6"/><ellipse cx="682" cy="444" rx="2.2" ry="2.8" stroke-width="1.5"/><ellipse cx="696" cy="451" rx="6" ry="6" class="w" stroke-width="1.8"/><ellipse cx="696.5" cy="452" rx="2.5" ry="2.5" /><path class="w" d="M681,463 L693,459 L705,463 L707,482 Q702,490 695,491 L684,487 Z" stroke-width="1.8"/><path d="M690,468 L690,488" stroke-width="1.2"/><path class="k" d="M686,462 L697,461 L701,469 L694,472 Z"/><ellipse cx="722" cy="466" rx="6" ry="6.5" class="w" stroke-width="2.6"/><ellipse cx="723" cy="467" rx="2" ry="2.5" stroke-width="1.4"/><path class="w" d="M731,468 L765,487 L761,494 L727,476 Z" stroke-width="1.6"/><path d="M735.0,471.0 L732.0,477.0" stroke-width="1.2"/><path d="M739.6,473.6 L736.6,479.6" stroke-width="1.2"/><path d="M744.2,476.2 L741.2,482.2" stroke-width="1.2"/><path d="M748.8,478.8 L745.8,484.8" stroke-width="1.2"/><path d="M753.4,481.4 L750.4,487.4" stroke-width="1.2"/><path d="M758.0,484.0 L755.0,490.0" stroke-width="1.2"/><path class="w" d="M741,458 L752,449 L764,452 L771,462 L769,470 L750,472 L741,468 Z" stroke-width="1.7"/><path d="M741,460 L754,462 L764,452 M754,462 L752,472" stroke-width="1.3"/><ellipse cx="757" cy="455" rx="3" ry="2.5" stroke-width="1.5"/><ellipse cx="766" cy="461" rx="3" ry="3" stroke-width="1.5"/><path class="w" d="M780.7,471 L786.5,449.6 L793,444.7 L803,448 L808,454.6 L814.6,458 L819.6,459.6 L821.3,444.7 L824.6,439.7 L843.6,429.8 L846,413.3 L856,411.6 L862.6,418.2 L862.6,434.8 L852.7,451.3 L852.7,477.8 L856,482.7 L864.2,499.2 L862.6,520.7 L862.6,527.4 L851,530.7 L862.6,537.3 L862.6,555.5 L834.5,567 L834.5,591.8 L798.1,611.7 L797.3,583.6 L788.2,580.3 L781.6,577 L781.6,562 L796.5,537.3 L794.8,525.7 L780.7,512.5 Z" stroke-width="1.9"/><path d="M803,501 L839.4,486 L842.7,524 L837.8,530.7 L811.3,520.7 Z" stroke-width="1.6"/><path d="M786.5,453 L788.2,510.8 L799,520.7 M803,471 L824.6,459.6 M806.4,482.7 L841,466.2 M803,510.8 L836,530.7 M841,497.6 L842.7,524 M836,487.7 Q843,500 847.7,510.8 Q852,512 854.3,507.5 M799.8,582 L862.6,550.5 M803,577 L859.3,547.2 M826,440 L828,475" stroke-width="1.5"/><path d="M801.4,585.2 L831.2,570 L831.2,590 L801.4,605 Z" stroke-width="1.3"/><path d="M789,468 L789,500" stroke-width="3"/><ellipse cx="799" cy="465" rx="5" ry="6" stroke-width="2.6"/><ellipse cx="797" cy="489" rx="5.5" ry="7" stroke-width="2.6"/><path class="k" d="M794,452 L805,450 L808,456 L800,460 Z M803,474 L809,471 L810,482 L805,485 Z M792,500 L802,497 L804,505 L795,508 Z"/><path class="w" d="M806,462 L824,455 L826,468 L808,476 Z" stroke-width="1.6"/><path d="M808,470 L825,463" stroke-width="2.4"/><path d="M829,445 L846,437 M829,445 L829,473" stroke-width="2.6"/><ellipse cx="835" cy="466" rx="5" ry="6" stroke-width="2.6"/><path class="k" d="M840,448 L850,444 L852,456 L845,460 Z M846,464 L852,462 L853,474 L847,476 Z"/><path d="M852,420 L858,424 L855,440" stroke-width="3"/><path class="k" d="M803,452 L808,455 L808,500 L804,503 L801,480 Z"/><path class="k" d="M827,446 L832,444 L834,476 L828,479 Z"/><path class="k" d="M850,428 L857,424 L857,450 L851,452 Z"/><path d="M791,455 Q786,470 789,505 M786,452 L786,512" stroke-width="1.4"/><path d="M836,488 Q848,496 848,512 Q852,516 856,512" stroke-width="2.4"/><path class="k" d="M809.7,540.6 L819.6,538 L819.6,553.8 L811,556 Z M809.7,557 L816.3,555 L816.3,565.4 L810,567 Z M800,527 L806,524 L808,535 L802,538 Z"/><ellipse cx="794.8" cy="568.7" rx="5.5" ry="6.5" class="k"/><ellipse cx="795.5" cy="568" rx="2" ry="3.5" fill="#fff" stroke="none" transform="rotate(25 795.5 568)"/><path class="k" d="M803,588 L816,582 L818,596 L806,601 Z"/><circle cx="811" cy="592" r="3.2" fill="#fff" stroke="#1c1c1c" stroke-width="1.2"/><circle cx="859.3" cy="524" r="4" class="k"/><circle cx="858.5" cy="523" r="1.3" fill="#fff"/><path class="k" d="M852,540 L862,536 L862,552 L852,554 Z"/><path class="k" d="M806,474 L812,471 L814,486 L808,490 Z M848,486 L855,483 L858,496 L851,500 Z"/><path d="M867,557 L867.5,596 L880,602" stroke-width="1.2"/><path d="M852,481 L933,526" stroke-width="1.5" stroke-dasharray="18,3,3,3"/><path d="M850,538 L874,554" stroke-width="1.2"/><path d="M857,454 L869,459 L906,439 L914,440" stroke-width="1.2" stroke-dasharray="12,2,2,2"/><ellipse cx="916" cy="445" rx="6" ry="5.5" class="w" stroke-width="2.2"/><ellipse cx="916" cy="445" rx="2" ry="2" class="k"/><ellipse cx="931.3" cy="454" rx="5.5" ry="5" class="k"/><ellipse cx="930" cy="453" rx="2" ry="1.5" fill="#fff" stroke="none"/><path class="w" d="M944,461 L952,465 L949,471 L941,467 Z" stroke-width="1.5"/><ellipse cx="960" cy="469" rx="7" ry="7" class="w" stroke-width="1.9"/><path d="M956,465 Q962,468 959,474" stroke-width="1.3"/><path class="w" d="M874,553 L882,549 L890,553 L891,563 L883,567 L875,563 Z" stroke-width="1.8"/><ellipse cx="882.5" cy="558" rx="3" ry="3.5" stroke-width="1.4"/><path class="w" d="M939,525 L956,528 L961,540 L954,548 L938,545 L935,535 Z" stroke-width="1.9"/><ellipse cx="955" cy="538" rx="5.5" ry="9" class="w" stroke-width="2"/><path d="M941,528 Q936,538 944,546 M948,528 Q943,538 950,546" stroke-width="1.4"/><ellipse cx="956" cy="538" rx="2.5" ry="4" /><path d="M961,540 L968,544" stroke-width="1.1"/><path class="w" d="M969,543 L981,549 L977,557 L965,551 Q963,545 969,543 Z" stroke-width="1.7"/><ellipse cx="983" cy="554" rx="7" ry="7.5" class="w" stroke-width="1.9"/><path d="M978,549 L985,548 L989,554 L986,560 M985,548 L982,555 L986,560" stroke-width="1.2"/><path class="w" d="M880,600 L895,607 L892,614 L877,607 Z" stroke-width="1.6"/><ellipse cx="899" cy="612" rx="7" ry="8" class="w" stroke-width="1.9"/><path d="M894,606 L900,612 L896,619" stroke-width="1.2"/><path d="M818,760 L832,750 Q850,732 870,730 L880,732" stroke-width="6.5" stroke-linecap="round" /><path d="M818,760 L832,750 Q850,732 870,730 L880,732" stroke="#fff" stroke-width="3.4" stroke-linecap="round" /><path d="M891,737 Q925,752 960,775" stroke-width="6.5" stroke-linecap="round" /><path d="M891,737 Q925,752 960,775" stroke="#fff" stroke-width="3.4" stroke-linecap="round" /><path d="M816,803 L832,795 Q850,778 870,777 L877,779" stroke-width="6.5" stroke-linecap="round" /><path d="M816,803 L832,795 Q850,778 870,777 L877,779" stroke="#fff" stroke-width="3.4" stroke-linecap="round" /><path d="M888,783 L907,792" stroke-width="6.5" stroke-linecap="round" /><path d="M888,783 L907,792" stroke="#fff" stroke-width="3.4" stroke-linecap="round" /><path class="w" d="M836,731 L842,731 A9,13 0 0,1 842,757 L836,757 A9,13 0 0,1 836,731 Z" stroke-width="2"/><ellipse cx="842" cy="744" rx="6" ry="10" stroke-width="1.5"/><ellipse cx="843" cy="744" rx="2.5" ry="4" class="k"/><path class="w" d="M836,776 L842,776 A9,13 0 0,1 842,802 L836,802 A9,13 0 0,1 836,776 Z" stroke-width="2"/><ellipse cx="842" cy="789" rx="6" ry="10" stroke-width="1.5"/><ellipse cx="843" cy="789" rx="2.5" ry="4" class="k"/><path class="w" d="M747,791 Q752,778 763,773 L795,758 L802,763 Q812,772 815,788 Q814,806 807,820 L793,831 L770,843 L761,843 L740,816 Z" stroke-width="2"/><path d="M764,774 Q780,800 782,836" stroke-width="1.4"/><path d="M812,764 L833,748 M814,806 L833,792" stroke-width="4.5"/><path d="M812,764 L833,748 M814,806 L833,792" stroke="#fff" stroke-width="2"/><ellipse cx="806" cy="764" rx="5" ry="8" class="w" stroke-width="1.8" transform="rotate(-35 806 764)"/><ellipse cx="815" cy="760" rx="4" ry="6.5" class="w" stroke-width="1.8" transform="rotate(-35 815 760)"/><ellipse cx="823" cy="755" rx="3" ry="5" class="w" stroke-width="1.6" transform="rotate(-35 823 755)"/><ellipse cx="809" cy="808" rx="4.5" ry="7" class="w" stroke-width="1.8" transform="rotate(-35 809 808)"/><ellipse cx="817" cy="803" rx="3.5" ry="5.5" class="w" stroke-width="1.6" transform="rotate(-35 817 803)"/><path class="k" d="M805,776 L811,774 L813,790 L806,792 Z"/><path class="w" d="M740,812 L752,806 L770,812 L770,832 L758,843 L742,832 Z" stroke-width="1.8"/><path d="M742,816 L756,822 L770,814 M756,822 L758,843" stroke-width="1.2"/><ellipse cx="758" cy="816" rx="4" ry="3.5" stroke-width="1.6"/><ellipse cx="758" cy="816" rx="1.5" ry="1.5" class="k"/><path class="w" d="M748,793 Q748,786 756,786 L764,788 Q770,792 768,800 L758,806 Q749,804 748,798 Z" stroke-width="1.8"/><ellipse cx="755" cy="797" rx="5" ry="6" stroke-width="1.4"/><path d="M752,801 L694,833" stroke-width="3.4"/><path d="M752,801 L694,833" stroke="#fff" stroke-width="1.2"/><path class="w" d="M694,830 L686,835 L688,840 L697,835 Z" stroke-width="1.5"/><path d="M688,838 L683,841" stroke-width="1.3"/><path d="M752,833 L704,859" stroke-width="4.8"/><path d="M752,833 L704,859" stroke="#fff" stroke-width="2.2"/><path class="w" d="M705,855 L688,864 Q682,869 690,872 L708,862 Z" stroke-width="2.2"/><path class="k" d="M697,860 L703,857 L705,863 L699,866 Z"/><path class="w" d="M703,783 L719,790 L717,795 L701,789 Z" stroke-width="1.5"/><path d="M708,786 L706,791 M712,788 L710,793 M716,789 L714,794" stroke-width="1"/><ellipse cx="699" cy="783" rx="6.5" ry="7" class="w" stroke-width="1.9"/><path d="M694,780 L699,776 L704,781 L702,789 M699,776 L699,784 L704,786" stroke-width="1.1"/><path d="M720,792 L733,800" stroke-width="1.1" stroke-dasharray="3,2"/><path class="w" d="M966,771 L977,774 L997,794 L996,801 L983,819 L967,821 L962,810 L965,798 L973,791 L964,784 Z" stroke-width="1.9"/><path d="M973,791 L995,799 M977,774 Q969,779 971,789 M967,807 L987,813" stroke-width="1.3"/><ellipse cx="963" cy="777" rx="4.5" ry="7.5" class="w" stroke-width="2" transform="rotate(-25 963 777)"/><ellipse cx="966" cy="824" rx="14" ry="9.5" class="w" stroke-width="3" transform="rotate(-35 966 824)"/><ellipse cx="966" cy="824" rx="8.5" ry="5" stroke-width="1.6" transform="rotate(-35 966 824)"/><path d="M959,827 L971,819 M962,830 L973,823" stroke-width="1.6"/><path d="M957,823 L972,813" stroke-width="1.4"/><path class="w" d="M913,788 L924,791 L944,811 L943,818 L930,836 L914,838 L909,827 L912,815 L920,808 L911,801 Z" stroke-width="1.9"/><path d="M920,808 L942,816 M924,791 Q916,796 918,806 M914,824 L934,830" stroke-width="1.3"/><ellipse cx="910" cy="794" rx="4.5" ry="7.5" class="w" stroke-width="2" transform="rotate(-25 910 794)"/><ellipse cx="913" cy="841" rx="14" ry="9.5" class="w" stroke-width="3" transform="rotate(-35 913 841)"/><ellipse cx="913" cy="841" rx="8.5" ry="5" stroke-width="1.6" transform="rotate(-35 913 841)"/><path d="M906,844 L918,836 M909,847 L920,840" stroke-width="1.6"/><path d="M904,840 L919,830" stroke-width="1.4"/><path class="w" d="M742,906 L747,902 L757,900 L759,897 L766,893 L784,906 L785,929 L779,935 L770,935 L769,939 L759,942 L743,927 Z" stroke-width="1.9"/><path d="M747,902 L764,916 L785,906 M764,916 L763,940" stroke-width="1.3"/><rect x="746" y="914" width="14" height="22" rx="4" stroke-width="1.7" transform="rotate(-12 753 925)"/><path d="M769,912 L769,936 M776,910 L776,934" stroke-width="1.3"/>
</g>
<g class="t">
<text transform="translate(228,107) scale(0.62,1)" font-size="24">14</text>
<text transform="translate(229,144) scale(0.62,1)" font-size="24">15</text>
<text transform="translate(189,189) scale(0.62,1)" font-size="24">13</text>
<text transform="translate(392,263) scale(0.62,1)" font-size="24">16</text>
<text transform="translate(392,304) scale(0.62,1)" font-size="24">17</text>
<text transform="translate(134,466) scale(0.62,1)" font-size="24">2</text>
<text transform="translate(91,535) scale(0.62,1)" font-size="24">1</text>
<text transform="translate(135,601) scale(0.62,1)" font-size="24">3</text>
<text transform="translate(335,507) scale(0.62,1)" font-size="24">10</text>
<text transform="translate(374,529) scale(0.62,1)" font-size="24">9</text>
<text transform="translate(257,599) scale(0.62,1)" font-size="24">7</text>
<text transform="translate(190,622) scale(0.62,1)" font-size="24">8</text>
<text transform="translate(254,637) scale(0.62,1)" font-size="24">5</text>
<text transform="translate(190,677) scale(0.62,1)" font-size="24">6</text>
<text transform="translate(382,657) scale(0.62,1)" font-size="24">11</text>
<text transform="translate(383,680) scale(0.62,1)" font-size="24">12</text>
<text transform="translate(439,731) scale(0.62,1)" font-size="24">4</text>
<text transform="translate(102,731) scale(0.62,1)" font-size="24">22</text>
<text transform="translate(102,758) scale(0.62,1)" font-size="24">23</text>
<text transform="translate(102,782) scale(0.62,1)" font-size="24">21</text>
<text transform="translate(434,810) scale(0.62,1)" font-size="24">18</text>
<text transform="translate(434,838) scale(0.62,1)" font-size="24">20</text>
<text transform="translate(434,866) scale(0.62,1)" font-size="24">19</text>
<text transform="translate(356,883) scale(0.62,1)" font-size="24">48</text>
<text transform="translate(224,958) scale(0.62,1)" font-size="24">25</text>
<text transform="translate(225,1001) scale(0.62,1)" font-size="24">24</text>
<text transform="translate(535,242) scale(0.62,1)" font-size="24">40</text>
<text transform="translate(573,261) scale(0.62,1)" font-size="24">41</text>
<text transform="translate(661,242) scale(0.62,1)" font-size="24">38</text>
<text transform="translate(703,279) scale(0.62,1)" font-size="24">39</text>
<text transform="translate(788,252) scale(0.62,1)" font-size="24">30</text>
<text transform="translate(836,265) scale(0.62,1)" font-size="24">31</text>
<text transform="translate(879,205) scale(0.62,1)" font-size="24">36</text>
<text transform="translate(879,246) scale(0.62,1)" font-size="24">37</text>
<text transform="translate(984,327) scale(0.62,1)" font-size="24">35</text>
<text transform="translate(768,417) scale(0.62,1)" font-size="24">48</text>
<text transform="translate(946,414) scale(0.62,1)" font-size="24">37</text>
<text transform="translate(978,431) scale(0.62,1)" font-size="24">36</text>
<text transform="translate(617,496) scale(0.62,1)" font-size="24">33</text>
<text transform="translate(639,507) scale(0.62,1)" font-size="24">34</text>
<text transform="translate(661,519) scale(0.62,1)" font-size="24">46</text>
<text transform="translate(688,528) scale(0.62,1)" font-size="24">34</text>
<text transform="translate(714,543) scale(0.62,1)" font-size="24">32</text>
<text transform="translate(884,528) scale(0.62,1)" font-size="24">33</text>
<text transform="translate(928,594) scale(0.62,1)" font-size="24">28</text>
<text transform="translate(965,622) scale(0.62,1)" font-size="24">29</text>
<text transform="translate(744,641) scale(0.62,1)" font-size="24">26</text>
<text transform="translate(890,684) scale(0.62,1)" font-size="24">27</text>
<text transform="translate(828,689) scale(0.62,1)" font-size="24">43</text>
<text transform="translate(772,707) scale(0.62,1)" font-size="24">42</text>
<text transform="translate(716,732) scale(0.62,1)" font-size="24">44</text>
<text transform="translate(859,858) scale(0.62,1)" font-size="24">43</text>
<text transform="translate(977,900) scale(0.62,1)" font-size="24">45</text>
<text transform="translate(861,961) scale(0.62,1)" font-size="24">47</text>
<text transform="translate(951,1249.5) scale(0.71,1)" font-size="27.5" style="font-weight:bold;stroke-width:0.3;letter-spacing:1.5px">40956</text>
</g>
</svg>
</body></html>
